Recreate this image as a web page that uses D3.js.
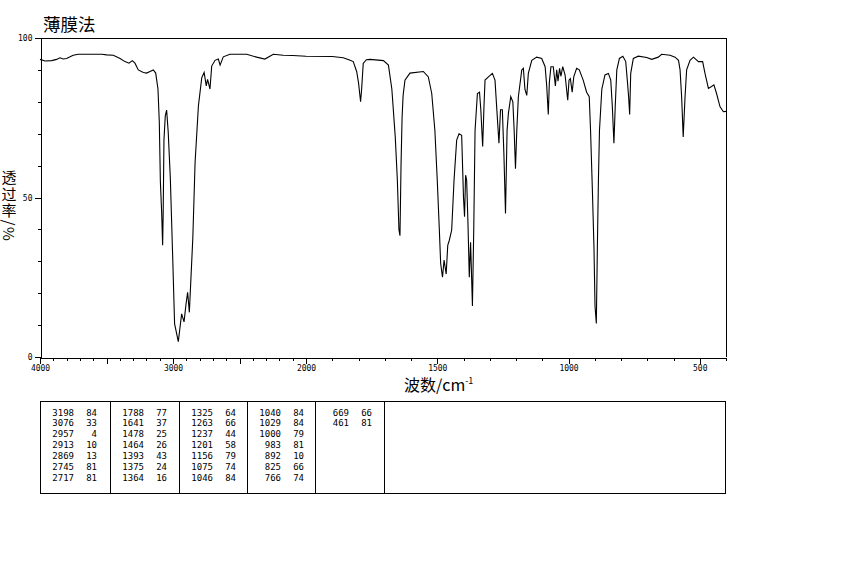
<!DOCTYPE html>
<html>
<head>
<meta charset="utf-8">
<script src="https://cdn.jsdelivr.net/npm/d3@7"></script>
<style>
  html, body { margin: 0; padding: 0; background: #fff; }
  svg { display: block; }
</style>
</head>
<body>
<svg id="chart" width="850" height="567"></svg>
<script>
// ---------- DATA ----------
const title = "薄膜法";
const yLabel = "透过率/%";
const xLabelMain = "波数/cm";
const xLabelSup = "-1";

// spectrum: wavenumber (cm-1) and transmittance (%)
const wavenumbers = [
  4000,3962,3912,3875,3850,3825,3800,3774,3750,3712,3536,3498,3449,3398,3361,3331,3306,3286,3261,3223,
  3198,3173,3148,3130,3113,3103,3095,3085,3078,3074,3068,3058,3048,3036,3020,3003,2988,2960,2947,2935,
  2917,2902,2890,2877,2867,2851,2834,2809,2784,2766,2750,2740,2722,2709,2684,2659,2646,2622,2572,2446,
  2371,2309,2246,2171,2100,2000,1900,1858,1832,1820,1807,1800,1792,1788,1782,1770,1756,1705,1686,1673,
  1660,1652,1646,1642,1638,1634,1630,1623,1604,1553,1534,1521,1509,1500,1492,1487,1480,1474,1466,1460,
  1454,1445,1436,1426,1417,1407,1400,1396,1392,1388,1383,1378,1373,1366,1361,1356,1347,1339,1334,1327,
  1322,1318,1305,1290,1280,1273,1265,1259,1252,1246,1240,1234,1229,1220,1212,1207,1202,1197,1191,1178,
  1172,1166,1159,1153,1140,1121,1102,1089,1083,1077,1073,1067,1058,1050,1045,1040,1034,1029,1022,1013,
  1003,998,993,986,980,969,959,944,931,921,916,909,903,899,894,890,886,882,873,861,
  848,839,833,827,822,816,806,793,782,776,771,767,763,753,734,702,683,658,645,613,
  594,581,575,569,563,556,550,537,524,505,489,480,467,455,446,436,423,410,400
];
const transmittance = [
  93.3,92.8,92.9,93.3,93.8,93.4,93.6,94.1,94.6,94.9,94.9,94.7,94.6,93.6,92.6,92.1,92.9,92.1,90.0,89.2,
  89.0,89.5,90.0,89.0,84.0,73.7,55.0,45.0,35.0,44.5,68.0,75.6,77.4,70.5,56.0,32.3,10.4,4.8,9.4,13.5,
  11.0,16.6,20.3,14.0,23.0,37.3,61.0,78.7,87.5,89.2,85.0,87.0,84.0,91.2,93.0,93.4,91.5,94.1,94.9,94.9,
  94.0,93.4,94.9,94.6,94.5,94.3,94.2,93.8,93.0,92.6,89.5,86.0,80.0,84.0,92.0,93.2,93.3,92.9,91.5,84.0,
  69.0,55.5,40.0,38.0,60.0,75.0,82.0,86.8,89.0,89.5,87.8,82.6,71.0,55.5,39.8,29.3,25.0,30.4,26.0,35.0,
  36.6,39.8,55.5,68.0,70.0,69.5,50.0,44.0,57.0,55.5,42.0,25.0,36.0,16.0,39.8,71.0,82.6,83.0,77.5,66.0,
  78.5,86.8,87.8,88.9,86.8,77.5,67.0,77.5,77.5,63.3,45.0,71.0,76.3,81.6,80.0,71.0,59.0,71.0,81.6,90.0,
  90.5,84.0,82.0,88.9,93.0,94.0,93.6,91.0,85.0,76.0,86.0,91.0,91.0,85.0,90.0,86.5,90.5,88.0,91.0,88.4,
  80.5,86.8,87.3,83.0,87.8,90.5,90.0,86.8,83.0,81.6,71.0,52.3,34.5,16.0,10.5,34.5,55.5,71.0,84.0,88.4,
  88.9,86.8,78.5,67.0,78.5,90.0,93.6,94.3,92.6,86.8,81.6,76.0,88.9,93.6,94.3,93.9,93.3,94.0,94.9,94.6,
  94.0,93.0,90.0,81.6,69.0,81.6,90.0,93.0,94.0,92.6,92.6,88.9,84.2,84.8,85.3,82.6,78.5,76.9,77.0
];

// peak table
const peakWavenumbers = [
  3198,3076,2957,2913,2869,2745,2717,
  1788,1641,1478,1464,1393,1375,1364,
  1325,1263,1237,1201,1156,1075,1046,
  1040,1029,1000,983,892,825,766,
  669,461
];
const peakValues = [
  84,33,4,10,13,81,81,
  77,37,25,26,43,24,16,
  64,66,44,58,79,74,84,
  84,84,79,81,10,66,74,
  66,81
];

// axis ticks
const xMajorTicks = [4000,3500,3000,2500,2000,1500,1000,500];
const xLabelTicks = [4000,3000,2000,1500,1000,500];
const xMinorTicks = d3.range(4000, 399, -100);
const yMajorTicks = [0,50,100];
const yMinorTicks = d3.range(0, 101, 10);

// ---------- DRAW ----------
(function () {
const svg = d3.select("#chart");
const pLeft = 40, pRight = 726, pTop = 38, pBottom = 357;

const x = d3.scaleLinear().domain([4000, 2000, 400]).range([pLeft, 306, pRight]);
const y = d3.scaleLinear().domain([0, 100]).range([pBottom, pTop]);

const mono = "'DejaVu Sans Mono', 'Liberation Mono', monospace";
const cjk = "'Noto Sans CJK SC', 'Noto Sans', sans-serif";

// title
svg.append("text")
  .attr("x", 43).attr("y", 31)
  .attr("font-family", cjk).attr("font-size", 17.5)
  .attr("fill", "#000")
  .text(title);

// frame (top and right)
svg.append("path")
  .attr("d", `M${pLeft},${pTop + 0.5}H${pRight + 0.5}V${pBottom}`)
  .attr("fill", "none").attr("stroke", "#000").attr("stroke-width", 1)
  .attr("shape-rendering", "crispEdges");

// y axis
const gy = svg.append("g").attr("transform", `translate(${pLeft + 0.5},0)`);
gy.call(d3.axisLeft(y).tickValues(yMinorTicks).tickSize(3).tickFormat(""));
gy.call(g => g.selectAll(".domain").remove());
const gyM = svg.append("g").attr("transform", `translate(${pLeft + 0.5},0)`);
gyM.call(d3.axisLeft(y).tickValues(yMajorTicks).tickSize(6).tickSizeOuter(0).tickPadding(2).tickFormat(d3.format("d")));
[gy, gyM].forEach(g => {
  g.selectAll("line, path").attr("stroke", "#000").attr("shape-rendering", "crispEdges");
  g.selectAll("text").attr("font-family", mono).attr("font-size", 8).attr("fill", "#000");
});

// x axis
const gx = svg.append("g").attr("transform", `translate(0,${pBottom + 0.5})`);
gx.call(d3.axisBottom(x).tickValues(xMinorTicks).tickSize(3).tickFormat(""));
gx.call(g => g.selectAll(".domain").remove());
const gxM = svg.append("g").attr("transform", `translate(0,${pBottom + 0.5})`);
gxM.call(d3.axisBottom(x).tickValues(xMajorTicks).tickSize(6).tickSizeOuter(0).tickPadding(2)
  .tickFormat(d => xLabelTicks.includes(d) ? String(d) : ""));
[gx, gxM].forEach(g => {
  g.selectAll("line, path").attr("stroke", "#000").attr("shape-rendering", "crispEdges");
  g.selectAll("text").attr("font-family", mono).attr("font-size", 8).attr("fill", "#000");
});

// x label
const xl = svg.append("text")
  .attr("x", 404).attr("y", 391)
  .attr("font-family", cjk).attr("font-size", 16).attr("fill", "#000");
xl.append("tspan").text(xLabelMain);
xl.append("tspan").attr("font-size", 9).attr("dy", -7).text(xLabelSup);

// y label (vertical, single text)
svg.append("text")
  .attr("x", 9).attr("y", 170)
  .attr("writing-mode", "vertical-rl")
  .style("writing-mode", "vertical-rl")
  .attr("letter-spacing", 1.5)
  .attr("font-family", cjk).attr("font-size", 15).attr("fill", "#000")
  .text(yLabel);

// spectrum line
const pts = wavenumbers.map((w, i) => [w, transmittance[i]]);
svg.append("path")
  .datum(pts)
  .attr("d", d3.line().x(d => x(d[0])).y(d => y(d[1])))
  .attr("fill", "none").attr("stroke", "#000").attr("stroke-width", 1.1)
  .attr("stroke-linejoin", "miter");

// peak table
const tLeft = 40.5, tRight = 725.5, tTop = 401.5, tBottom = 493.5;
const colX = [40, 110, 179, 247, 315];
svg.append("rect")
  .attr("x", tLeft).attr("y", tTop)
  .attr("width", tRight - tLeft).attr("height", tBottom - tTop)
  .attr("fill", "none").attr("stroke", "#000").attr("shape-rendering", "crispEdges");
[110, 179, 247, 315, 384].forEach(cx => {
  svg.append("line")
    .attr("x1", cx + 0.5).attr("x2", cx + 0.5).attr("y1", tTop).attr("y2", tBottom)
    .attr("stroke", "#000").attr("shape-rendering", "crispEdges");
});
const rows = 7;
const cells = peakWavenumbers.map((w, i) => ({ w, v: peakValues[i], col: Math.floor(i / rows), row: i % rows }));
const tg = svg.append("g").attr("font-family", mono).attr("font-size", 9).attr("fill", "#000");
tg.selectAll("text.w").data(cells).join("text")
  .attr("class", "w")
  .attr("x", d => colX[d.col] + 34).attr("y", d => 412.5 + d.row * 10.9)
  .attr("text-anchor", "end").attr("dominant-baseline", "central")
  .text(d => d.w);
tg.selectAll("text.v").data(cells).join("text")
  .attr("class", "v")
  .attr("x", d => colX[d.col] + 57).attr("y", d => 412.5 + d.row * 10.9)
  .attr("text-anchor", "end").attr("dominant-baseline", "central")
  .text(d => d.v);
})();
</script>
</body>
</html>
